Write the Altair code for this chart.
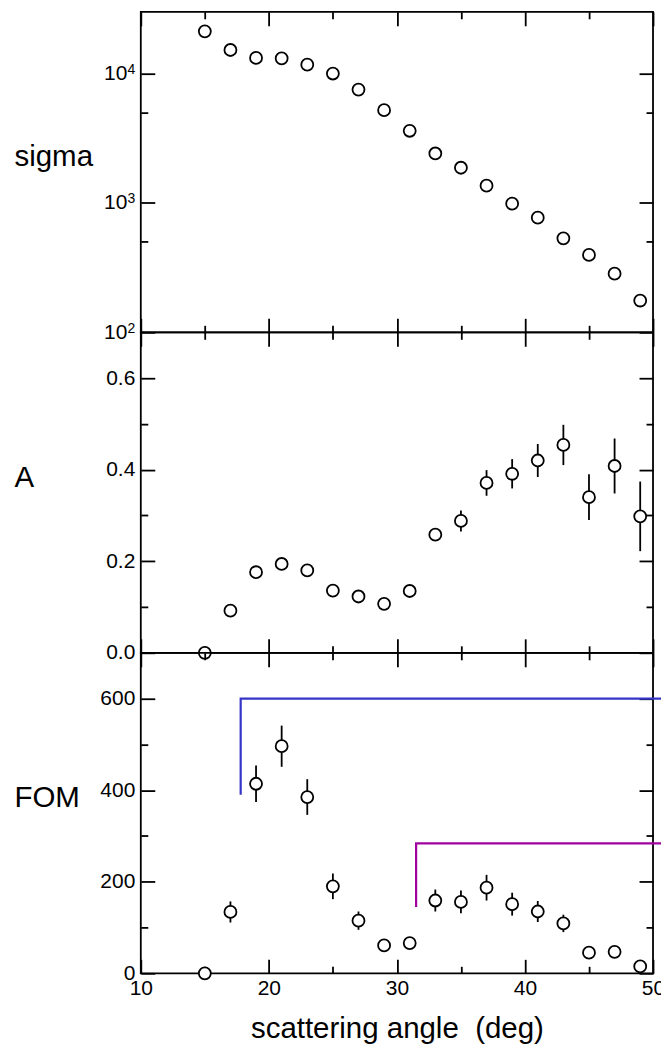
import altair as alt
import pandas as pd

# ---------------- data ----------------
angle = [15, 17, 19, 21, 23, 25, 27, 29, 31, 33, 35, 37, 39, 41, 43, 45, 47, 49]
sigma = [21200, 15200, 13200, 13100, 11700, 10000, 7520, 5210, 3610, 2410,
         1870, 1360, 986, 769, 532, 396, 284, 176]
asym = [0.0, 0.092, 0.176, 0.194, 0.180, 0.136, 0.123, 0.107, 0.135, 0.258,
        0.288, 0.371, 0.391, 0.420, 0.454, 0.340, 0.408, 0.298]
asym_err = [0.004, 0.005, 0.006, 0.007, 0.007, 0.007, 0.008, 0.009, 0.010, 0.012,
            0.023, 0.028, 0.032, 0.036, 0.044, 0.050, 0.060, 0.076]
fom = [0, 134, 414, 496, 385, 190, 115, 61, 66, 159, 156, 187, 151, 135, 109, 45, 47, 15]
fom_err = [0, 23, 40, 45, 39, 28, 20, 9, 10, 24, 25, 28, 25, 23, 19, 8, 8, 6]

blue_x = [17.8, 17.8, 51.5]
blue_y = [390, 600, 600]
purple_x = [31.5, 31.5, 51.5]
purple_y = [145, 284, 284]

x_ticks = [10, 15, 20, 25, 30, 35, 40, 45, 50]
sigma_ticks = [100, 500, 1000, 5000, 10000]
sigma_decades = [100, 1000, 10000]
asym_ticks = [0.0, 0.1, 0.2, 0.3, 0.4, 0.5, 0.6]
fom_ticks = [0, 100, 200, 300, 400, 500, 600]

# ---------------- tables ----------------
df = pd.DataFrame({"angle": angle, "sigma": sigma, "A": asym, "A_err": asym_err,
                   "FOM": fom, "FOM_err": fom_err})
df["A_lo"] = df["A"] - df["A_err"]
df["A_hi"] = df["A"] + df["A_err"]
df["FOM_lo"] = df["FOM"] - df["FOM_err"]
df["FOM_hi"] = df["FOM"] + df["FOM_err"]

lines = pd.DataFrame({
    "angle": blue_x + purple_x,
    "FOM": blue_y + purple_y,
    "series": ["blue"] * 3 + ["purple"] * 3,
    "order": [0, 1, 2, 0, 1, 2],
})

W, H = 513, 321
FONT = "Liberation Sans"
LABEL_SIZE = 21
X_SCALE = alt.Scale(domain=[10, 50], nice=False, zero=False)
MAJOR = 14


def tsize(test):
    return {"condition": {"test": test, "value": -MAJOR}, "value": -7}


def make_axis(orient, values, major, labels=False, label_expr=None, title=None, **kw):
    d = dict(orient=orient, values=values, tickSize=tsize(major), domain=False,
             grid=False, ticks=True, tickColor="black", tickWidth=1.8,
             labels=labels, title=title, minExtent=0, maxExtent=0, offset=0)
    if labels:
        d.update(labelFont=FONT, labelFontSize=LABEL_SIZE, labelColor="black",
                 labelFlush=False, labelOverlap=False)
        if label_expr:
            d["labelExpr"] = label_expr
    d.update(kw)
    return alt.Axis(**d)


def ytitle_kw(pad=6):
    return dict(titleAngle=0, titleAlign="left", titleBaseline="alphabetic",
                titleX=-127, titleY=154, titleFont=FONT, titleFontSize=29.5,
                titleFontWeight="normal", titleColor="black",
                labelPadding=MAJOR + pad)


X_MAJOR = "datum.value % 10 === 0"


def panel(field, yscale, yvals, ymajor, ylabel_expr, ytitle, bottom=False,
          err=None, extra=None, pre=None, ypad=6):
    if bottom:
        xaxis = make_axis("bottom", x_ticks, X_MAJOR, labels=True,
                          label_expr="datum.value % 10 === 0 ? datum.label : ''",
                          title="scattering angle\u00a0 (deg)",
                          labelPadding=MAJOR + 4, titleAngle=0, titleAlign="center",
                          titleBaseline="alphabetic", titleX=W / 2, titleY=64,
                          titleFont=FONT, titleFontSize=29.5,
                          titleFontWeight="normal", titleColor="black")
    else:
        xaxis = make_axis("bottom", x_ticks, X_MAJOR)
    yaxis = make_axis("left", yvals, ymajor, labels=True, label_expr=ylabel_expr,
                      title=ytitle, **ytitle_kw(ypad))

    axes_main = alt.Chart(df).mark_point(opacity=0).encode(
        x=alt.X("angle:Q", scale=X_SCALE, axis=xaxis),
        y=alt.Y(f"{field}:Q", scale=yscale, axis=yaxis),
    )
    axes_sec = alt.Chart(df).mark_point(opacity=0).encode(
        x=alt.X("angle:Q", scale=X_SCALE, axis=make_axis("top", x_ticks, X_MAJOR)),
        y=alt.Y(f"{field}:Q", scale=yscale, axis=make_axis("right", yvals, ymajor)),
    )
    layers = [axes_main, axes_sec]
    if pre is not None:
        layers.append(pre)
    if err is not None:
        layers.append(alt.Chart(df).mark_rule(color="black", strokeWidth=1.8).encode(
            x=alt.X("angle:Q", scale=X_SCALE, axis=None),
            y=alt.Y(f"{field}_lo:Q", scale=yscale, axis=None),
            y2=f"{field}_hi:Q",
        ))
    if extra is not None:
        layers.append(extra)
    layers.append(alt.Chart(df).mark_point(
        shape="circle", size=144, filled=True, fill="white", stroke="black",
        strokeWidth=1.8, opacity=1).encode(
        x=alt.X("angle:Q", scale=X_SCALE, axis=None),
        y=alt.Y(f"{field}:Q", scale=yscale, axis=None),
    ))
    return alt.layer(*layers).resolve_axis(x="independent", y="independent").properties(
        width=W, height=H)


sig_scale = alt.Scale(type="log", domain=[100, 30000], nice=False)
A_scale = alt.Scale(domain=[0, 0.7], nice=False, zero=False)
F_scale = alt.Scale(domain=[0, 700], nice=False, zero=False)

# exponent labels of the log axis (small raised digits after "10")
exp_axis = alt.Axis(orient="left", values=sigma_decades, ticks=False, tickSize=0,
                    domain=False, grid=False, title=None, minExtent=0, maxExtent=0,
                    offset=0, labelExpr="format(log(datum.value) / log(10), '.0f')",
                    labelFont=FONT, labelFontSize=14, labelColor="black",
                    labelPadding=6, labelOffset=-4, labelFlush=False,
                    labelOverlap=False)
exp_layer = alt.Chart(df).mark_point(opacity=0).encode(
    x=alt.X("angle:Q", scale=X_SCALE, axis=None),
    y=alt.Y("sigma:Q", scale=sig_scale, axis=exp_axis),
)

p1 = panel("sigma", sig_scale, sigma_ticks,
           "datum.value === 100 || datum.value === 1000 || datum.value === 10000",
           "datum.value === 100 || datum.value === 1000 || datum.value === 10000"
           " ? '10' : ''",
           "sigma", pre=exp_layer, ypad=14)

p2 = panel("A", A_scale, asym_ticks,
           "round(datum.value * 10) % 2 === 0",
           "round(datum.value * 10) % 2 === 0 ? format(datum.value, '.1f') : ''",
           "A", err=True)

line_layer = alt.Chart(lines).mark_line(strokeWidth=2.2, clip=False).encode(
    x=alt.X("angle:Q", scale=X_SCALE, axis=None),
    y=alt.Y("FOM:Q", scale=F_scale, axis=None),
    color=alt.Color("series:N", scale=alt.Scale(domain=["blue", "purple"],
                                                range=["#3535c8", "#a000a0"]),
                    legend=None),
    order="order:Q",
)

p3 = panel("FOM", F_scale, fom_ticks,
           "datum.value % 200 === 0",
           "datum.value % 200 === 0 ? datum.label : ''",
           "FOM", bottom=True, err=True, extra=line_layer)

# negative right padding trims the svg so the lines are cut at the page edge
chart = alt.vconcat(p1, p2, p3, spacing=0, bounds="flush").properties(
    padding={"left": 5, "top": 1, "right": -17, "bottom": -1}
).configure_view(stroke="black", strokeWidth=1.8)

chart.save("out.html", embed_options={"renderer": "svg", "actions": False})
